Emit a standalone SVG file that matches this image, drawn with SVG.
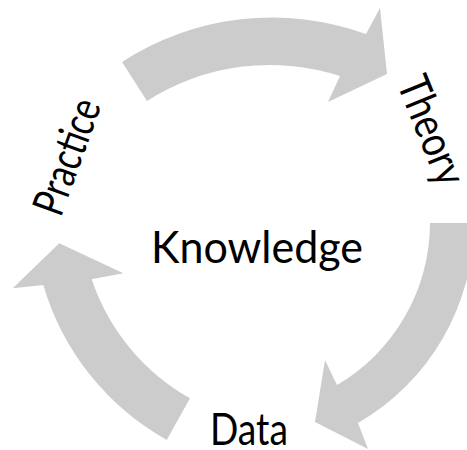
<svg xmlns="http://www.w3.org/2000/svg" width="467" height="450" viewBox="0 0 467 450">
  <style>
    .arrow { fill: #cccccc; stroke: none; }
    .label { font-family: Lato, "Open Sans", "Liberation Sans", sans-serif; font-size: 44px; font-weight: 400; fill: #000000; }
  </style>
  <rect width="467" height="450" fill="#ffffff"/>

  <!-- curved block arrows of the cycle -->
  <g id="connectors">
    <path id="arrow-practice-theory" class="arrow"
          d="M 122 62 A 276 276 0 0 1 366 34 L 380 8 L 387 74 L 328 102 L 340 76 A 228 228 0 0 0 147 101 Z"/>
    <path id="arrow-theory-data" class="arrow"
          d="M 430 223 L 474 223 A 232 232 0 0 1 358 423 L 368 449 L 315 422 L 325 360 L 337 385 A 188 188 0 0 0 430 223 Z"/>
    <path id="arrow-data-practice" class="arrow"
          d="M 166.7 440 A 262 262 0 0 1 43.3 285 L 12.7 288.3 L 59.3 243.3 L 123.3 273.3 L 91.7 279.3 A 215 215 0 0 0 190 398.3 Z"/>
  </g>

  <g id="node-knowledge">
    <text class="label" x="151" y="263" textLength="212" lengthAdjust="spacingAndGlyphs">Knowledge</text>
  </g>

  <g id="node-theory" transform="translate(428 132) rotate(68)">
    <text class="label" x="-57" y="11" textLength="114" lengthAdjust="spacingAndGlyphs">Theory</text>
  </g>

  <g id="node-data">
    <text class="label" x="210" y="445" textLength="78" lengthAdjust="spacingAndGlyphs">Data</text>
  </g>

  <g id="node-practice" transform="translate(68 157) rotate(-70)">
    <text class="label" x="-60" y="14" textLength="120" lengthAdjust="spacingAndGlyphs">Practice</text>
  </g>
</svg>
